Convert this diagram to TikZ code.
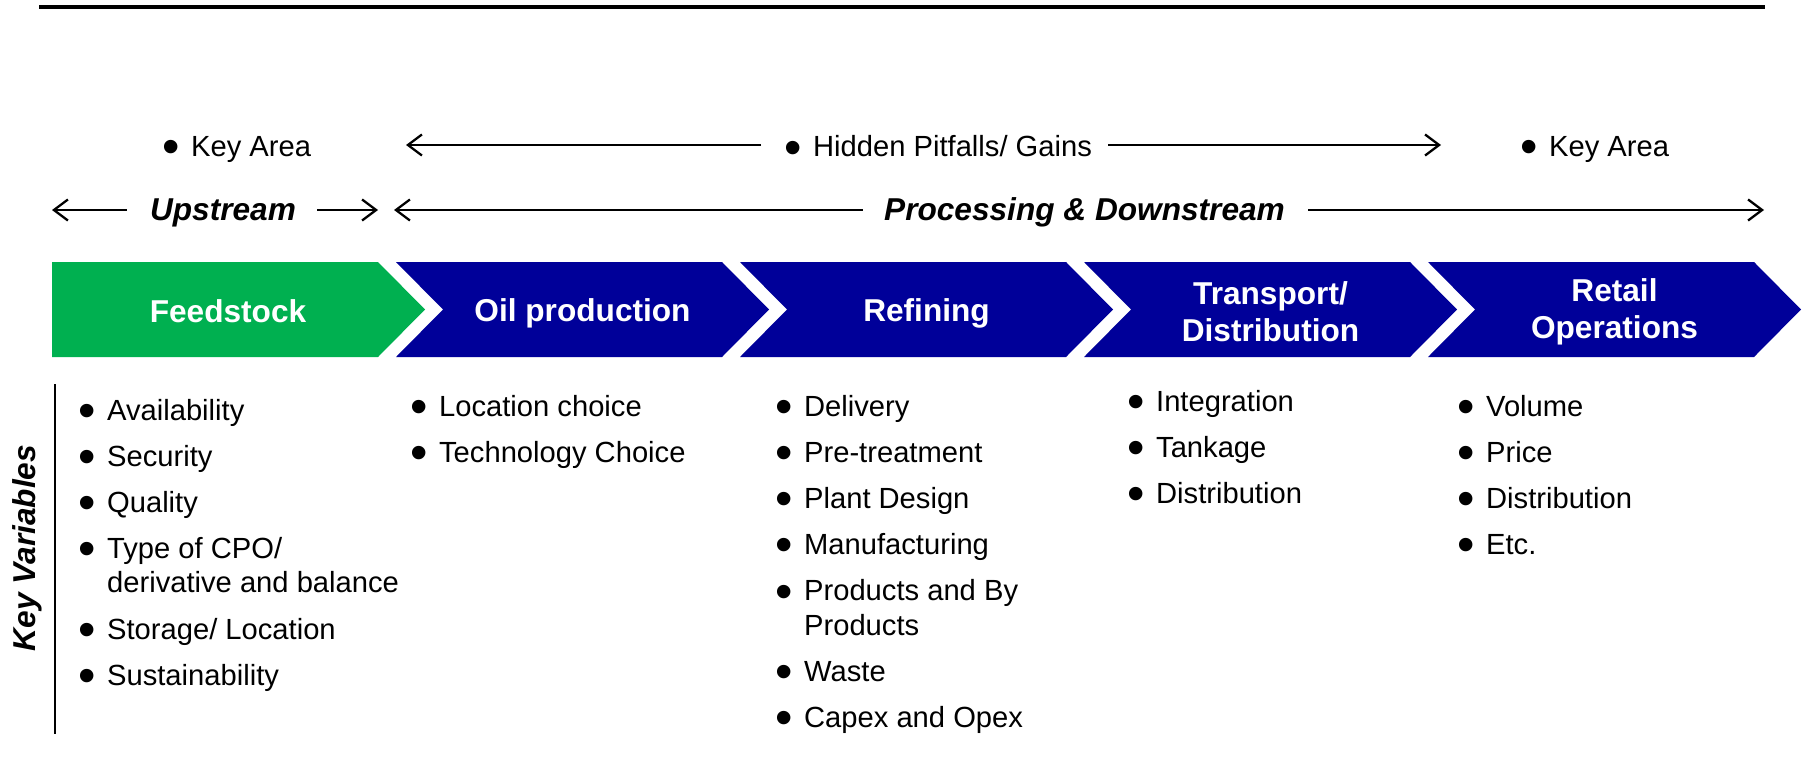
\documentclass[tikz,border=0pt]{standalone}
\usepackage{graphicx}
\usepackage{fontspec}
\setmainfont{Liberation Sans}
\usetikzlibrary{arrows.meta}

\definecolor{feedgreen}{RGB}{0,176,80}
\definecolor{chainblue}{RGB}{0,0,153}

% big bullet sitting near the baseline
\newcommand{\kvbul}{\raisebox{-0.25em}{\scalebox{1.7}{\textbullet}}}
\newcommand{\kvdot}{\kvbul\hspace{6.5pt}}

\begin{document}
\begin{tikzpicture}[x=0.02cm,y=-0.02cm,
  body/.style={font=\fontsize{16.6}{19.5}\selectfont,inner sep=0pt},
  stage/.style={text=white,font=\bfseries\fontsize{18}{21}\selectfont,align=center,inner sep=0pt},
  span/.style={font=\bfseries\itshape\fontsize{18}{21}\selectfont,inner sep=0pt},
  spanarrow/.style={line width=1.3pt,-{Straight Barb[length=8pt,width=12pt]}}]
\useasboundingbox (0,0) rectangle (1808,781);

% Top rule
\draw[line width=1.8pt] (39,7) -- (1765,7);

% Key area / hidden pitfalls row
\node[body,anchor=west] (keyL) at (162,150) {\kvdot Key Area};
\node[body,anchor=west] (hidden) at (784,150) {\kvdot Hidden Pitfalls/ Gains};
\node[body,anchor=west] (keyR) at (1520,150) {\kvdot Key Area};
\coordinate (hidL) at (406,145);
\coordinate (hidR) at (1441,145);
\draw[spanarrow,shorten <=0.46cm] (hidden.west |- hidL) -- (hidL);
\draw[spanarrow,shorten <=0.32cm] (hidden.east |- hidR) -- (hidR);

% Upstream / downstream row
\node[span] (up) at (223,213) {Upstream};
\coordinate (upL) at (52,210);
\coordinate (upR) at (378,210);
\draw[spanarrow,shorten <=0.46cm] (up.west |- upL) -- (upL);
\draw[spanarrow,shorten <=0.42cm] (up.east |- upR) -- (upR);
\node[span] (down) at (1084.5,212) {Processing \& Downstream};
\coordinate (downL) at (394,210);
\coordinate (downR) at (1764,210);
\draw[spanarrow,shorten <=0.42cm] (down.west |- downL) -- (downL);
\draw[spanarrow,shorten <=0.46cm] (down.east |- downR) -- (downR);

% Value chain
\fill[feedgreen] (52,262) -- (378,262) -- (425,309.5) -- (378,357) -- (52,357) -- cycle;
\fill[chainblue] (396,262) -- (722,262) -- (769,309.5) -- (722,357) -- (396,357) -- (443,309.5) -- cycle;
\fill[chainblue] (740,262) -- (1066,262) -- (1113,309.5) -- (1066,357) -- (740,357) -- (787,309.5) -- cycle;
\fill[chainblue] (1084,262) -- (1410,262) -- (1457,309.5) -- (1410,357) -- (1084,357) -- (1131,309.5) -- cycle;
\fill[chainblue] (1428,262) -- (1754,262) -- (1801,309.5) -- (1754,357) -- (1428,357) -- (1475,309.5) -- cycle;
\node[stage] (feed) at (228,311) {Feedstock};
\node[stage] (oil) at (582.5,313) {Oil production};
\node[stage] (refine) at (926.5,313) {Refining};
\node[stage] (trans) at (1270.5,312) {Transport/\\Distribution};
\node[stage] (retail) at (1614.5,312) {Retail\\Operations};

% Key variables
\node[span,rotate=90] (keyvar) at (27,548) {Key Variables};
\draw[line width=1.1pt] (55,384) -- (55,734);

\node[body,anchor=base west] (feedlist) at (78,420) {\begin{tabular}[t]{@{}l@{\hspace{6.5pt}}l@{}}
\kvbul & Availability\\[6.8pt]
\kvbul & Security\\[6.8pt]
\kvbul & Quality\\[6.8pt]
\kvbul & Type of CPO/\\
 & derivative and balance\\[6.8pt]
\kvbul & Storage/ Location\\[6.8pt]
\kvbul & Sustainability
\end{tabular}};
\node[body,anchor=base west] (oillist) at (410,416) {\begin{tabular}[t]{@{}l@{\hspace{6.5pt}}l@{}}
\kvbul & Location choice\\[6.8pt]
\kvbul & Technology Choice
\end{tabular}};
\node[body,anchor=base west] (refinelist) at (775,416) {\begin{tabular}[t]{@{}l@{\hspace{6.5pt}}l@{}}
\kvbul & Delivery\\[6.8pt]
\kvbul & Pre-treatment\\[6.8pt]
\kvbul & Plant Design\\[6.8pt]
\kvbul & Manufacturing\\[6.8pt]
\kvbul & Products and By\\
 & Products\\[6.8pt]
\kvbul & Waste\\[6.8pt]
\kvbul & Capex and Opex
\end{tabular}};
\node[body,anchor=base west] (translist) at (1127,411) {\begin{tabular}[t]{@{}l@{\hspace{6.5pt}}l@{}}
\kvbul & Integration\\[6.8pt]
\kvbul & Tankage\\[6.8pt]
\kvbul & Distribution
\end{tabular}};
\node[body,anchor=base west] (retaillist) at (1457,416) {\begin{tabular}[t]{@{}l@{\hspace{6.5pt}}l@{}}
\kvbul & Volume\\[6.8pt]
\kvbul & Price\\[6.8pt]
\kvbul & Distribution\\[6.8pt]
\kvbul & Etc.
\end{tabular}};

\end{tikzpicture}
\end{document}
